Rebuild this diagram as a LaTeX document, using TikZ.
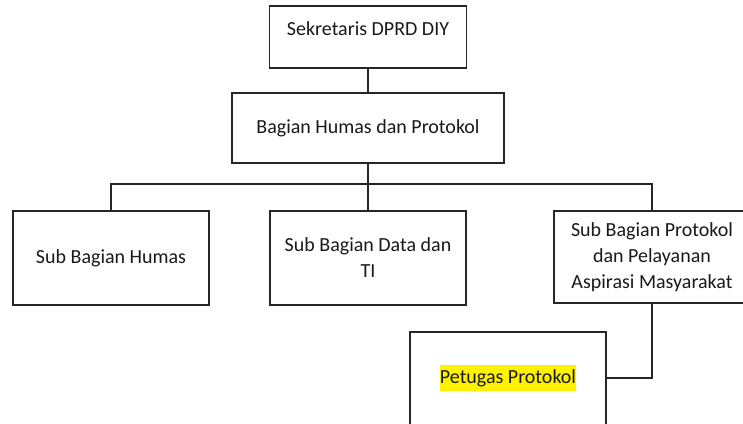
\documentclass[tikz,border=0pt]{standalone}
\usepackage{fontspec}
\setmainfont{Carlito}
\begin{document}
\begin{tikzpicture}[x=1pt,y=-1pt,
  box/.style={draw=black!85, line width=1.3pt, rectangle, inner sep=0pt, align=center,
              font=\fontsize{20}{26}\selectfont, text=black!90},
  txt/.style={inner sep=0pt, align=center, font=\fontsize{20}{26}\selectfont, text=black!90},
  conn/.style={draw=black!85, line width=1.3pt}]
\useasboundingbox (0,0) rectangle (743,423);
\clip (0,0) rectangle (743,423);
\fill[white] (0,0) rectangle (743,423);
% boxes
\node[box, minimum width=197pt, minimum height=62pt] (sek) at (368,37) {};
\node[txt] (sekt) at ([yshift=8pt]sek.center) {Sekretaris DPRD DIY};
\node[box, minimum width=272pt, minimum height=70pt] (bag) at (368,128) {Bagian Humas dan Protokol};
\node[box, minimum width=196pt, minimum height=94pt] (hum) at (111,258) {Sub Bagian Humas};
\node[box, minimum width=196pt, minimum height=94pt] (data) at (368,258) {Sub Bagian Data dan\\TI};
\node[box, minimum width=196pt, minimum height=92pt] (prot) at (652,257) {Sub Bagian Protokol\\dan Pelayanan\\Aspirasi Masyarakat};
\node[box, minimum width=196pt, minimum height=98pt] (pet) at (508,381) {};
\node[txt, fill=yellow, text height=18.2pt, text depth=7.8pt] (pett) at (508,378) {Petugas Protokol};
% connectors
\coordinate (bus) at (368,184);
\coordinate (petin) at (pet.east |- pett);
\draw[conn] (sek.south) -- (bag.north);
\draw[conn] (bag.south) -- (bus);
\draw[conn] (hum.north) |- (bus) -| (prot.north);
\draw[conn] (bus) -- (data.north);
\draw[conn] (prot.south) |- (petin);
\end{tikzpicture}
\end{document}
